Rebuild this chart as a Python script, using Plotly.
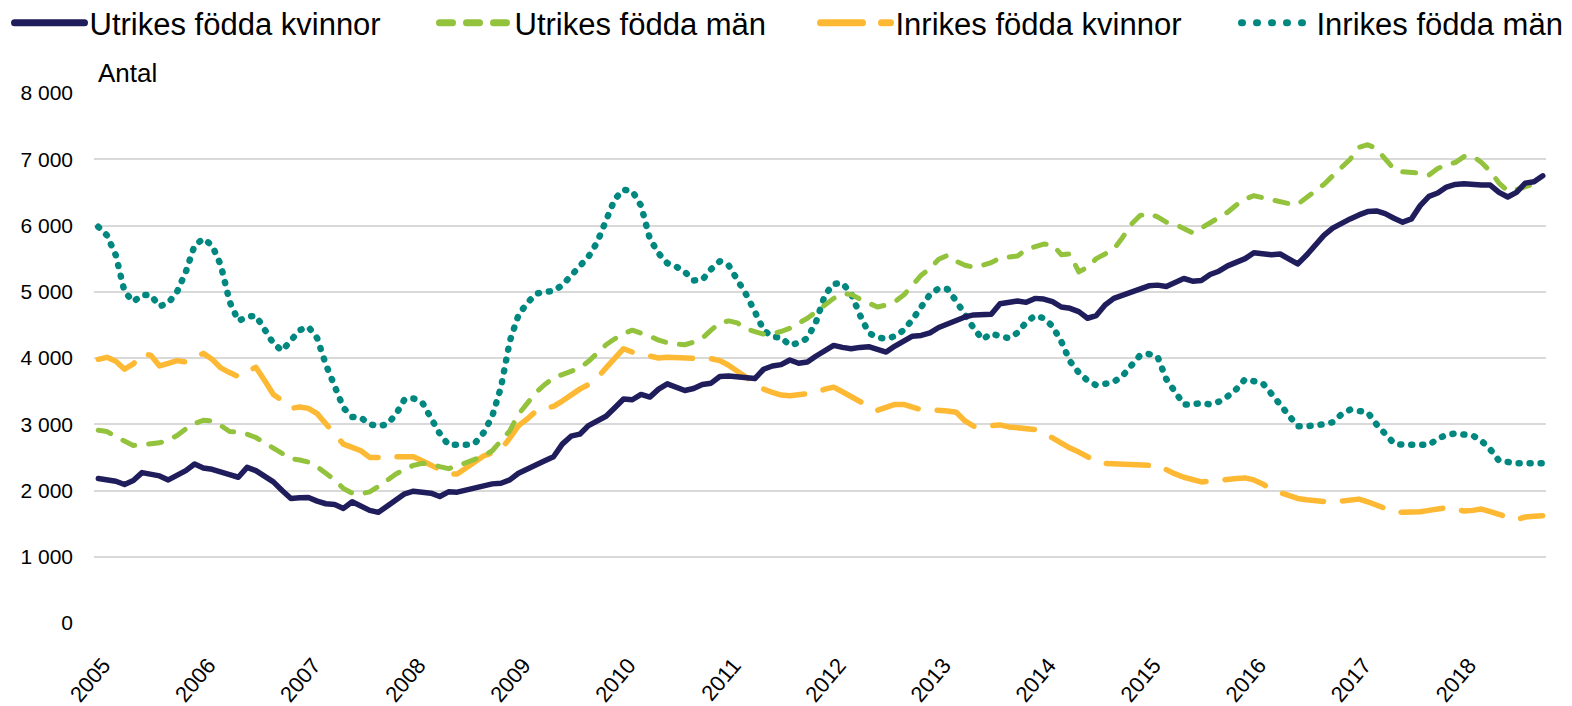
import plotly.graph_objects as go

years = [str(y) for y in range(2005, 2019)]
months = list(range(166))  # Jan 2005 .. Oct 2018, monthly

utrikes_kvinnor = [
    2180, 2160, 2140, 2090, 2150, 2270, 2250, 2220, 2160, 2230, 2300, 2400,
    2340, 2320, 2270, 2240, 2200, 2350, 2300, 2220, 2130, 2000, 1880, 1890,
    1895, 1840, 1800, 1790, 1730, 1830, 1770, 1700, 1670, 1760, 1870, 1950,
    1990, 1980, 1960, 1910, 1980, 1975, 2010, 2050, 2080, 2100, 2110, 2160,
    2260, 2330, 2400, 2450, 2510, 2700, 2820, 2850, 2980, 3050, 3120, 3250,
    3380, 3370, 3450, 3410, 3530, 3610, 3570, 3510, 3540, 3600, 3620, 3720,
    3730, 3720, 3700, 3690, 3830, 3880, 3900, 3970, 3920, 3940, 4030, 4120,
    4190, 4160, 4140, 4160, 4170, 4130, 4090, 4180, 4260, 4330, 4340, 4380,
    4460, 4520, 4580, 4620, 4650, 4650, 4660, 4820, 4840, 4860, 4840, 4900,
    4890, 4850, 4770, 4750, 4700, 4600, 4640, 4800, 4900, 4950, 4980, 5040,
    5090, 5100, 5080, 5140, 5200, 5160, 5170, 5260, 5310, 5390, 5450, 5500,
    5590, 5570, 5560, 5570, 5490, 5420, 5550, 5700, 5850, 5960, 6040, 6100,
    6160, 6210, 6220, 6180, 6110, 6050, 6100, 6300, 6440, 6490, 6580, 6620,
    6630, 6610, 6610, 6610, 6500, 6430, 6500, 6640, 6660, 6750,
]

utrikes_man = [
    2910, 2890, 2810, 2740, 2680, 2690, 2710, 2720, 2760, 2830, 2930, 3010,
    3060, 3050, 2980, 2890, 2880, 2850, 2800, 2730, 2640, 2560, 2480, 2460,
    2430, 2360, 2270, 2160, 2030, 1960, 1950, 1980, 2060, 2160, 2250, 2320,
    2380, 2410, 2400, 2360, 2330, 2370, 2420, 2470, 2520, 2600, 2750, 2900,
    3150, 3330, 3480, 3600, 3700, 3750, 3800, 3850, 3950, 4080, 4200, 4290,
    4370, 4420, 4380, 4330, 4270, 4230, 4210, 4200, 4240, 4300, 4420, 4530,
    4560, 4530, 4440, 4400, 4360, 4370, 4400, 4450, 4520, 4600, 4700, 4800,
    4900, 4970, 4960, 4890, 4820, 4770, 4800, 4850, 4950, 5100, 5250, 5350,
    5490, 5550, 5460, 5400, 5370, 5400, 5440, 5510, 5530, 5540, 5640, 5690,
    5720, 5710, 5560, 5570, 5300, 5370, 5500, 5570, 5640, 5820, 6020, 6150,
    6180, 6130, 6050, 6020, 5950, 5890, 5960, 6040, 6120, 6200, 6310, 6400,
    6450, 6420, 6400, 6360, 6330, 6320, 6420, 6530, 6620, 6750, 6880, 7000,
    7180, 7220, 7160, 7010, 6850, 6810, 6800, 6790, 6760, 6860, 6920, 6950,
    7040, 7050, 6950, 6820, 6640, 6520, 6540, 6590, 6630, 6660,
]

inrikes_kvinnor = [
    3980, 4010, 3950, 3830, 3910, 4070, 4040, 3880, 3920, 3960, 3940, 4000,
    4070, 3980, 3850, 3780, 3720, 3800, 3860, 3660, 3450, 3360, 3240, 3260,
    3240, 3160, 3010, 2850, 2700, 2650, 2600, 2500, 2490, 2500, 2510, 2520,
    2510, 2450, 2380, 2300, 2250, 2250, 2340, 2420, 2520, 2570, 2620, 2790,
    2980, 3080, 3200, 3240, 3270, 3350, 3450, 3530, 3600, 3700, 3850, 3990,
    4140, 4090, 4060, 4020, 4000, 4010, 4000, 4000, 3980, 3990, 3990, 3960,
    3890, 3800, 3700, 3620, 3530, 3480, 3440, 3430, 3450, 3460, 3480, 3530,
    3560, 3490, 3410, 3330, 3270, 3210, 3250, 3300, 3300, 3250, 3220, 3220,
    3220, 3200, 3180, 3050, 2970, 2960, 2980, 2990, 2960, 2940, 2920, 2920,
    2870, 2790, 2720, 2640, 2580, 2510, 2440, 2410, 2400, 2410, 2400, 2390,
    2380, 2380, 2310, 2250, 2200, 2160, 2130, 2140, 2160, 2170, 2180, 2190,
    2160, 2100, 2020, 1970, 1920, 1880, 1860, 1840, 1830, 1820, 1840, 1860,
    1870, 1830, 1780, 1720, 1680, 1670, 1670, 1680, 1700, 1720, 1740, 1720,
    1690, 1700, 1720, 1680, 1650, 1600, 1560, 1600, 1610, 1620,
]

inrikes_man = [
    5980, 5850, 5550, 5000, 4850, 4950, 4950, 4780, 4830, 5000, 5300, 5700,
    5800, 5700, 5400, 4850, 4560, 4620, 4640, 4440, 4220, 4110, 4250, 4420,
    4470, 4300, 3900, 3600, 3250, 3110, 3100, 3000, 2970, 3000, 3150, 3380,
    3390, 3330, 3100, 2860, 2690, 2680, 2690, 2710, 2870, 3120, 3560, 4250,
    4650, 4830, 4970, 5000, 5010, 5100, 5250, 5400, 5530, 5750, 6050, 6400,
    6540, 6520, 6300, 5800, 5580, 5430, 5380, 5300, 5170, 5180, 5340, 5460,
    5400, 5200, 4960, 4700, 4420, 4320, 4310, 4190, 4230, 4300, 4550, 4950,
    5120, 5130, 4970, 4650, 4380, 4310, 4290, 4330, 4420, 4580, 4750, 4960,
    5050, 5040, 4860, 4650, 4450, 4280, 4370, 4330, 4300, 4380, 4540, 4640,
    4600, 4480, 4250, 3950, 3780, 3660, 3590, 3610, 3640, 3730, 3880, 4040,
    4060, 4020, 3680, 3490, 3300, 3300, 3320, 3300, 3340, 3420, 3530, 3680,
    3660, 3620, 3460, 3290, 3110, 2970, 2970, 2975, 3000, 3030, 3150, 3220,
    3210, 3180, 3000, 2860, 2710, 2690, 2690, 2690, 2690, 2780, 2840, 2860,
    2850, 2830, 2750, 2620, 2450, 2420, 2410, 2410, 2410, 2410,
]

y_ticks = [0, 1000, 2000, 3000, 4000, 5000, 6000, 7000, 8000]
y_ticktext = ["0", "1 000", "2 000", "3 000", "4 000", "5 000", "6 000", "7 000", "8 000"]
year_tick_months = [12 * k for k in range(len(years))]

series = [
    ("Utrikes födda kvinnor", utrikes_kvinnor, "#201d5c", 5.5, "solid", "legend"),
    ("Utrikes födda män", utrikes_man, "#93c23d", 5, "13px,14px", "legend2"),
    ("Inrikes födda kvinnor", inrikes_kvinnor, "#fdb933", 5.5, "42px,19px", "legend3"),
    ("Inrikes födda män", inrikes_man, "#00877f", 6.5, "1px,10px", "legend4"),
]

fig = go.Figure()
# draw order: teal, yellow, green, navy on top
for name, vals, color, width, dash, leg in [series[3], series[2], series[1], series[0]]:
    fig.add_trace(go.Scatter(
        x=months, y=vals, name=name, mode="lines",
        line=dict(color=color, width=width, dash=dash),
        legend=leg, hoverinfo="skip",
    ))

L, R, T, B = 94, 26, 93, 83
W, H = 1572, 706
pw, ph = W - L - R, H - T - B

def lx(px):
    return (px - L) / pw

def ly(py):
    return (H - B - py) / ph

legend_common = dict(
    orientation="h", yanchor="middle", y=ly(23),
    xanchor="left", font=dict(family="Liberation Sans, Arial, sans-serif", size=31, color="#000000"),
    itemwidth=70, bgcolor="rgba(0,0,0,0)", borderwidth=0,
)

fig.update_layout(
    width=W, height=H,
    margin=dict(l=L, r=R, t=T, b=B, autoexpand=False),
    plot_bgcolor="white", paper_bgcolor="white",
    font=dict(family="Liberation Sans, Arial, sans-serif", color="#000000"),
    showlegend=True,
    legend=dict(x=lx(9.5), **legend_common),
    legend2=dict(x=lx(434.5), **legend_common),
    legend3=dict(x=lx(815.5), **legend_common),
    legend4=dict(x=lx(1236.5), **legend_common),
    xaxis=dict(
        range=[-0.49, 165.37], tickmode="array", tickvals=year_tick_months, ticktext=years,
        tickangle=-50, showgrid=False, zeroline=False, showline=False, ticks="",
        tickfont=dict(size=22, color="#000000"), ticklabelstandoff=24, ticklabelshift=5,
    ),
    yaxis=dict(
        range=[0, 8000], tickmode="array", tickvals=y_ticks, ticktext=y_ticktext,
        showgrid=True, gridcolor="#d9d9d9", gridwidth=2, zeroline=False, showline=False,
        ticks="", tickfont=dict(size=21, color="#000000"), ticklabelstandoff=20,
    ),
    annotations=[dict(
        text="Antal", xref="paper", yref="paper", x=lx(96), y=ly(73),
        xanchor="left", yanchor="middle", showarrow=False,
        font=dict(size=26, color="#000000"),
    )],
)

post = """
document.body.style.margin = '0';
document.body.style.padding = '0';
var gd = document.getElementById('{plot_id}');
function fixCaps(){
  gd.querySelectorAll('g.scatterlayer path.js-line, g.legendlines path').forEach(function(p){
    p.style.strokeLinecap = 'round';
    p.style.strokeLinejoin = 'round';
  });
  gd.querySelectorAll('g.legendlines path').forEach(function(p){
    p.style.strokeWidth = '7px';
  });
  gd.querySelectorAll('g.legend4 g.legendlines path').forEach(function(p){
    p.style.strokeDasharray = '1px,14px';
  });
}
fixCaps();
gd.on('plotly_afterplot', fixCaps);
"""

fig.write_html("out.html", post_script=post, config={"displayModeBar": False, "staticPlot": True})
